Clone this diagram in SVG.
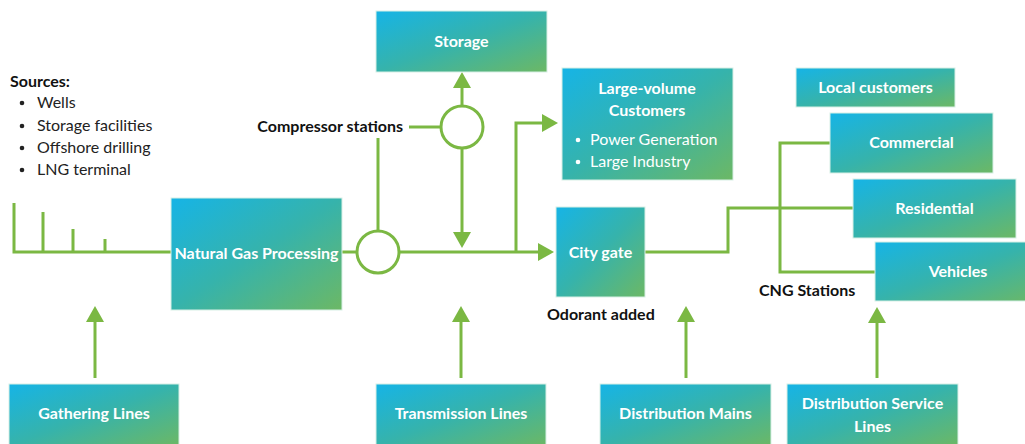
<svg xmlns="http://www.w3.org/2000/svg" width="1025" height="444" viewBox="0 0 1025 444">
<defs>
<linearGradient id="g" x1="0" y1="0" x2="1" y2="1">
<stop offset="0" stop-color="#16b4e6"/>
<stop offset="0.5" stop-color="#36b3ab"/>
<stop offset="1" stop-color="#6cb865"/>
</linearGradient>
<marker id="ah" viewBox="0 0 16 18" refX="8" refY="9" markerWidth="16" markerHeight="18" markerUnits="userSpaceOnUse" orient="auto">
<path d="M0,0 L16,9 L0,18 z" fill="#7bb843"/>
</marker>
<style>
.box{fill:url(#g);stroke:#d8efe6;stroke-width:1}
.bt{font-family:Lato,"Noto Sans",sans-serif;font-weight:bold;font-size:16px;fill:#fff;text-anchor:middle}
.bl{font-family:Lato,"Noto Sans",sans-serif;font-size:16px;fill:#fff}
.lb{font-family:Lato,"Noto Sans",sans-serif;font-weight:bold;font-size:16px;fill:#111}
.tx{font-family:Lato,"Noto Sans",sans-serif;font-size:16px;fill:#222}
.ln{fill:none;stroke:#7bb843;stroke-width:3}
.ar{fill:none;stroke:#7bb843;stroke-width:3;marker-end:url(#ah)}
.cp{fill:#fff;stroke:#7bb843;stroke-width:3}
</style>
</defs>
<rect width="1025" height="444" fill="#fff"/>

<g id="sources">
<text class="lb" x="10" y="87">Sources:</text>
<circle cx="22" cy="103" r="2.3" fill="#222"/><text class="tx" x="37" y="108">Wells</text>
<circle cx="22" cy="126" r="2.3" fill="#222"/><text class="tx" x="37" y="131">Storage facilities</text>
<circle cx="22" cy="148" r="2.3" fill="#222"/><text class="tx" x="37" y="153">Offshore drilling</text>
<circle cx="22" cy="170" r="2.3" fill="#222"/><text class="tx" x="37" y="175">LNG terminal</text>
</g>

<g id="connectors">
<path class="ln" d="M14,203 V252 H171"/>
<path class="ln" d="M43,212 V252 M73,229 V252 M105,239 V252"/>
<path class="ln" d="M342,252 H357"/>
<path class="ar" d="M400,252 H546"/>
<path class="ar" d="M516,252 V123 H550"/>
<path class="ln" d="M409,127 H441"/>
<path class="ln" d="M378,231 V138"/>
<path class="ar" d="M462,106 V80"/>
<path class="ar" d="M462,148 V240"/>
<path class="ln" d="M645,252 H728 V208 H853"/>
<path class="ln" d="M830,143 H780 V272 H875"/>
<path class="ar" d="M95,378 V314"/>
<path class="ar" d="M461,378 V314"/>
<path class="ar" d="M686,378 V314"/>
<path class="ar" d="M877,378 V315"/>
</g>

<g id="compressor-upper"><circle class="cp" cx="462" cy="127" r="21"/></g>
<g id="compressor-lower"><circle class="cp" cx="378" cy="252" r="21"/></g>
<g id="compressor-label"><text class="lb" x="403" y="132" text-anchor="end">Compressor stations</text></g>

<g id="processing"><rect class="box" x="171" y="198" width="171" height="112"/><text class="bt" x="256.5" y="259">Natural Gas Processing</text></g>
<g id="storage"><rect class="box" x="376" y="11" width="171" height="61"/><text class="bt" x="461.5" y="47">Storage</text></g>
<g id="large-volume"><rect class="box" x="562" y="68" width="171" height="112"/>
<text class="bt" x="647" y="94">Large-volume</text><text class="bt" x="647" y="116">Customers</text>
<circle cx="578" cy="140" r="2.3" fill="#fff"/><text class="bl" x="590" y="145">Power Generation</text>
<circle cx="578" cy="162" r="2.3" fill="#fff"/><text class="bl" x="590" y="167">Large Industry</text>
</g>
<g id="city-gate"><rect class="box" x="556" y="207" width="89" height="90"/><text class="bt" x="600.5" y="258">City gate</text></g>
<g id="odorant"><text class="lb" x="547" y="320">Odorant added</text></g>
<g id="local"><rect class="box" x="796" y="68" width="159" height="39"/><text class="bt" x="875.5" y="93">Local customers</text></g>
<g id="commercial"><rect class="box" x="830" y="113" width="163" height="60"/><text class="bt" x="911.5" y="148">Commercial</text></g>
<g id="residential"><rect class="box" x="853" y="179" width="163" height="59"/><text class="bt" x="934.5" y="214">Residential</text></g>
<g id="vehicles"><rect class="box" x="875" y="242" width="166" height="59"/><text class="bt" x="958" y="277">Vehicles</text></g>
<g id="cng"><text class="lb" x="759" y="296">CNG Stations</text></g>

<g id="gathering"><rect class="box" x="9" y="384" width="170" height="62"/><text class="bt" x="94" y="419">Gathering Lines</text></g>
<g id="transmission"><rect class="box" x="376" y="384" width="170" height="62"/><text class="bt" x="461" y="419">Transmission Lines</text></g>
<g id="dist-mains"><rect class="box" x="600" y="384" width="171" height="62"/><text class="bt" x="685.5" y="419">Distribution Mains</text></g>
<g id="dist-service"><rect class="box" x="787" y="384" width="171" height="62"/><text class="bt" x="872.5" y="409">Distribution Service</text><text class="bt" x="872.5" y="432">Lines</text></g>
</svg>
